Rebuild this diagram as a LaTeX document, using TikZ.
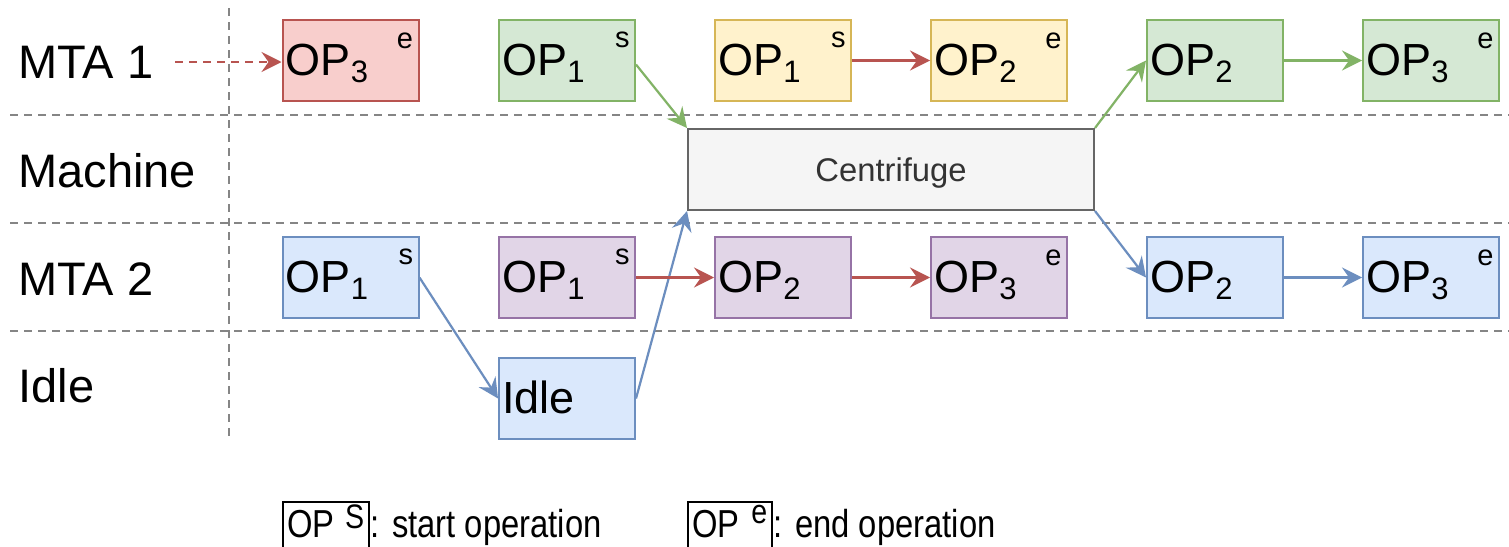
\documentclass[tikz,border=0pt]{standalone}
\usepackage{fontspec}
\setmainfont{Liberation Sans}
\usetikzlibrary{arrows.meta}
\definecolor{gfill}{HTML}{D5E8D4}\definecolor{gdraw}{HTML}{82B366}
\definecolor{yfill}{HTML}{FFF2CC}\definecolor{ydraw}{HTML}{D6B656}
\definecolor{rfill}{HTML}{F8CECC}\definecolor{rdraw}{HTML}{B85450}
\definecolor{bfill}{HTML}{DAE8FC}\definecolor{bdraw}{HTML}{6C8EBF}
\definecolor{pfill}{HTML}{E1D5E7}\definecolor{pdraw}{HTML}{9673A6}
\definecolor{cfill}{HTML}{F5F5F5}\definecolor{cdraw}{HTML}{666666}
\definecolor{ctext}{HTML}{333333}
\definecolor{lanecol}{HTML}{858585}
\tikzset{
  lane/.style={draw=lanecol, line width=0.8pt, dash pattern=on 4pt off 3pt},
  opbox/.style={draw, line width=1pt, minimum width=68pt, minimum height=40.5pt, inner sep=0pt},
  gbox/.style={opbox, fill=gfill, draw=gdraw},
  ybox/.style={opbox, fill=yfill, draw=ydraw},
  rbox/.style={opbox, fill=rfill, draw=rdraw},
  bbox/.style={opbox, fill=bfill, draw=bdraw},
  pbox/.style={opbox, fill=pfill, draw=pdraw},
  optext/.style={font=\fontsize{22.5}{22.5}\selectfont, inner sep=0pt, anchor=base west},
  suptext/.style={font=\fontsize{14.5}{14.5}\selectfont, inner sep=0pt, anchor=north east},
  rowlabel/.style={font=\fontsize{23.5}{23.5}\selectfont, inner sep=0pt, anchor=base west},
  conn/.style={line width=1.1pt, -{Stealth[length=10pt, width=10pt, inset=3.5pt]}},
  legtext/.style={font=\fontsize{19.5}{19.5}\selectfont, inner sep=0pt, anchor=base west, xscale=0.84, transform shape},
}
\newcommand\sbs[1]{\raisebox{-3.5pt}{\fontsize{15.5}{15.5}\selectfont #1}}
% name, x, y, style, text, sup
\newcommand\opnode[6]{%
  \node[#4] (#1) at (#2,#3) {};
  \node[optext] (#1t) at ([xshift=2pt,yshift=-7.25pt]#1.west) {#5};
  \node[suptext] (#1s) at ([xshift=-3pt,yshift=-6.5pt]#1.north east) {#6};}
\begin{document}
\begin{tikzpicture}[x=0.5pt, y=-0.5pt]
\clip (0,0) rectangle (1509,546);
\fill[white] (0,0) rectangle (1509,546);
% lanes
\draw[lane] (229,8) -- (229,440);
\draw[lane] (10,115) -- (1509,115);
\draw[lane] (10,223) -- (1509,223);
\draw[lane] (10,331) -- (1509,331);
% row labels
\node[rowlabel] (l1) at (18,78) {MTA 1};
\node[rowlabel] (l2) at (18,187) {Machine};
\node[rowlabel] (l3) at (18,295) {MTA 2};
\node[rowlabel] (l4) at (18,402) {Idle};
% row MTA 1
\opnode{r3}{350.5}{60.5}{rbox}{OP\sbs{3}}{e}
\opnode{g1}{567}{60.5}{gbox}{OP\sbs{1}}{s}
\opnode{y1}{783}{60.5}{ybox}{OP\sbs{1}}{s}
\opnode{y2}{999}{60.5}{ybox}{OP\sbs{2}}{e}
\opnode{g2}{1215}{60.5}{gbox}{OP\sbs{2}}{}
\opnode{g3}{1431}{60.5}{gbox}{OP\sbs{3}}{e}
% machine
\node[draw=cdraw, fill=cfill, line width=1pt, minimum width=203pt, minimum height=40.5pt, inner sep=0pt,
      text depth=0pt, font=\fontsize{16.4}{16.4}\selectfont, text=ctext] (cent) at (891,169.5) {Centrifuge};
% row MTA 2
\opnode{b1}{350.5}{277.5}{bbox}{OP\sbs{1}}{s}
\opnode{p1}{567}{277.5}{pbox}{OP\sbs{1}}{s}
\opnode{p2}{783}{277.5}{pbox}{OP\sbs{2}}{}
\opnode{p3}{999}{277.5}{pbox}{OP\sbs{3}}{e}
\opnode{b2}{1215}{277.5}{bbox}{OP\sbs{2}}{}
\opnode{b3}{1431}{277.5}{bbox}{OP\sbs{3}}{e}
% idle
\opnode{idle}{567}{398.5}{bbox}{Idle}{}
% connectors
\coordinate (dstart) at (175,62);
\draw[conn, rdraw, dash pattern=on 4pt off 3pt] (dstart) -- (r3.west |- dstart);
\draw[conn, gdraw] ([yshift=-2pt]g1.east) -- (cent.north west);
\draw[conn, rdraw] (y1.east) -- (y2.west);
\draw[conn, gdraw] (cent.north east) -- (g2.west);
\draw[conn, gdraw] (g2.east) -- (g3.west);
\draw[conn, bdraw] (cent.south east) -- (b2.west);
\draw[conn, bdraw] (b2.east) -- (b3.west);
\draw[conn, bdraw] (b1.east) -- (idle.west);
\draw[conn, bdraw] (idle.east) -- (cent.south west);
\draw[conn, rdraw] (p1.east) -- (p2.west);
\draw[conn, rdraw] (p2.east) -- (p3.west);
% legend
\node[draw=black, line width=0.8pt, minimum width=43pt, minimum height=30pt, inner sep=0pt, anchor=north west] (leg1) at (282,501) {};
\node[legtext] (leg1t) at (287,537) {OP};
\node[legtext, anchor=north east, font=\fontsize{17}{17}\selectfont] (leg1s) at ([xshift=-2.5pt,yshift=-1.5pt]leg1.north east) {S};
\node[legtext] (leg1d) at ([xshift=0.5pt]leg1.east |- leg1t.base) {: start operation};
\node[draw=black, line width=0.8pt, minimum width=42pt, minimum height=30pt, inner sep=0pt, anchor=north west] (leg2) at (687,501) {};
\node[legtext] (leg2t) at (692,537) {OP};
\node[legtext, anchor=north east, font=\fontsize{17}{17}\selectfont] (leg2s) at ([xshift=-2.5pt,yshift=-2pt]leg2.north east) {e};
\node[legtext] (leg2d) at ([xshift=0.5pt]leg2.east |- leg2t.base) {: end operation};
\end{tikzpicture}
\end{document}
